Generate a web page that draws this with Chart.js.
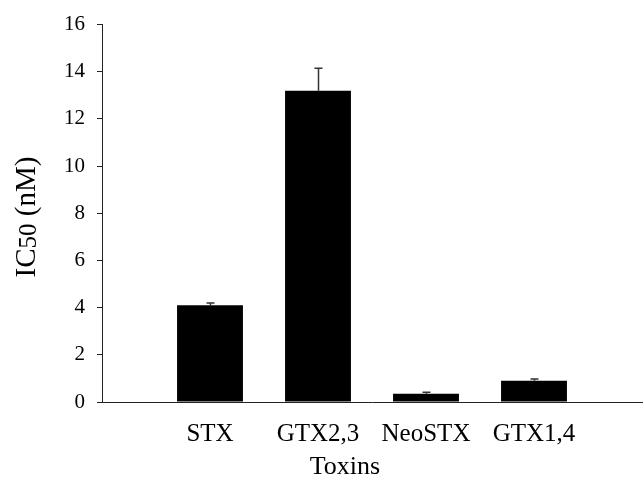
<!DOCTYPE html>
<html>
<head>
<meta charset="utf-8">
<script src="https://cdn.jsdelivr.net/npm/chart.js@4.4.1/dist/chart.umd.min.js"></script>
<style>
  html, body { margin: 0; padding: 0; background: #fff; }
  #wrap { width: 644px; height: 489px; }
</style>
</head>
<body>
<div id="wrap"><canvas id="chart" width="644" height="489"></canvas></div>
<script>
// data
const categories = ['STX', 'GTX2,3', 'NeoSTX', 'GTX1,4'];
const ic50 = [4.1, 13.2, 0.35, 0.9];
const errUp = [0.1, 0.95, 0.06, 0.08];
const yTicks = [0, 2, 4, 6, 8, 10, 12, 14, 16];

const serif = 'Liberation Serif';

// empty slot at each end so the bars sit where they do in the original
const labels = ['', ...categories, ''];
const values = [null, ...ic50, null];
const errors = [null, ...errUp, null];

// upper error bars
const errorBars = {
    id: 'errorBars',
    afterDatasetsDraw(chart) {
        const ctx = chart.ctx;
        const meta = chart.getDatasetMeta(0);
        const y = chart.scales.y;
        ctx.save();
        ctx.strokeStyle = '#333';
        ctx.lineWidth = 1.5;
        meta.data.forEach((bar, i) => {
            if (values[i] == null) return;
            const top = y.getPixelForValue(values[i] + errors[i]);
            const x = Math.round(bar.x) + 0.5;
            ctx.beginPath();
            ctx.moveTo(x, bar.y);
            ctx.lineTo(x, top);
            ctx.moveTo(x - 4, top);
            ctx.lineTo(x + 4, top);
            ctx.stroke();
        });
        ctx.restore();
    }
};

// axis titles: y one has a subscript 50, x one sits left of centre in the original
const axisTitles = {
    id: 'axisTitles',
    afterDraw(chart) {
        const ctx = chart.ctx;
        const big = '29px "' + serif + '"';
        const small = '25px "' + serif + '"';
        ctx.save();
        ctx.fillStyle = '#000';

        ctx.font = '26px "' + serif + '"';
        ctx.textAlign = 'center';
        ctx.textBaseline = 'middle';
        ctx.fillText('Toxins', 345, 467);

        ctx.textAlign = 'left';
        ctx.translate(27, 217);
        ctx.rotate(-Math.PI / 2);
        ctx.font = big;
        const w1 = ctx.measureText('IC').width;
        const w3 = ctx.measureText(' (nM)').width;
        ctx.font = small;
        const w2 = ctx.measureText('50').width;
        let x = -(w1 + w2 + w3) / 2;
        ctx.font = big;
        ctx.fillText('IC', x, 0);
        x += w1;
        ctx.font = small;
        ctx.fillText('50', x, 2);
        x += w2;
        ctx.font = big;
        ctx.fillText(' (nM)', x, 0);
        ctx.restore();
    }
};

new Chart(document.getElementById('chart'), {
    type: 'bar',
    data: {
        labels: labels,
        datasets: [{
            data: values,
            backgroundColor: '#000',
            borderWidth: 0,
            categoryPercentage: 1,
            barPercentage: 0.61
        }]
    },
    options: {
        responsive: false,
        animation: false,
        layout: { padding: { top: 22, right: 2 } },
        plugins: { legend: { display: false }, tooltip: { enabled: false } },
        scales: {
            x: {
                offset: false,
                grid: { display: false, drawTicks: false },
                border: { display: true, color: '#222', width: 1 },
                ticks: {
                    color: '#000',
                    font: { family: serif, size: 25 },
                    padding: 17,
                    maxRotation: 0,
                    autoSkip: false
                },
                afterFit(scale) {
                    scale.height = 87;
                    scale.paddingLeft = 0;
                    scale.paddingRight = 0;
                }
            },
            y: {
                min: 0,
                max: 16,
                afterBuildTicks(scale) { scale.ticks = yTicks.map(v => ({ value: v })); },
                grid: { drawOnChartArea: false, drawTicks: true, tickLength: 5, color: '#222' },
                border: { display: true, color: '#222', width: 1 },
                ticks: {
                    color: '#000',
                    font: { family: serif, size: 21 },
                    padding: 12
                },
                afterFit(scale) { scale.width = 102; }
            }
        }
    },
    plugins: [errorBars, axisTitles]
});
</script>
</body>
</html>
